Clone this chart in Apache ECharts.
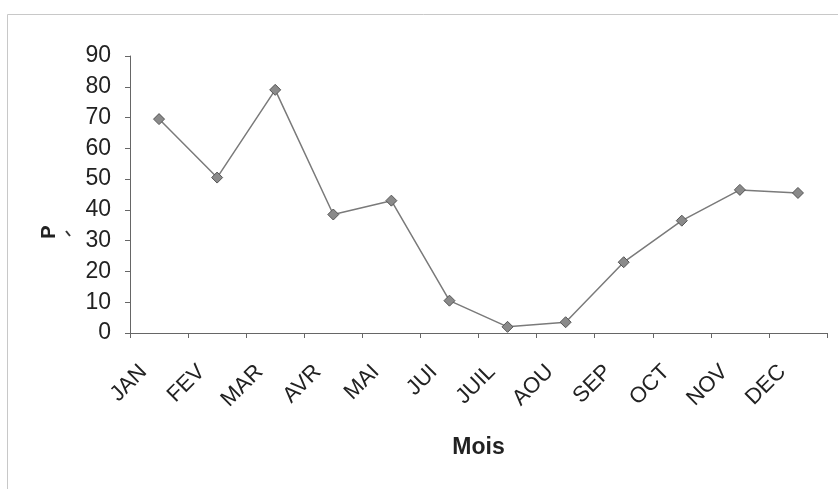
<!DOCTYPE html>
<html>
<head>
<meta charset="utf-8">
<script src="https://cdn.jsdelivr.net/npm/echarts@6/dist/echarts.min.js"></script>
<style>
html,body{margin:0;padding:0;background:#fff;}
#chart{width:838px;height:489px;}
</style>
</head>
<body>
<div id="chart"></div>
<script>
const months = ['JAN','FEV','MAR','AVR','MAI','JUI','JUIL','AOU','SEP','OCT','NOV','DEC'];
const precip = [69.5, 50.5, 79, 38.5, 43, 10.5, 2, 3.5, 23, 36.5, 46.5, 45.5];
const yTicks = [0, 10, 20, 30, 40, 50, 60, 70, 80, 90];
const yTitle = 'P';
const xTitle = 'Mois';

const chart = echarts.init(document.getElementById('chart'), null, {renderer: 'canvas'});
const font = '"Liberation Sans", Arial, sans-serif';
chart.setOption({
  animation: false,
  backgroundColor: '#fff',
  graphic: [
    {type: 'rect', shape: {x: 7.5, y: 14.5, width: 840, height: 490}, style: {fill: 'none', stroke: '#c8c8c8', lineWidth: 1}, silent: true},
    {type: 'text', x: 49, y: 232, rotation: Math.PI / 2,
      style: {text: yTitle, font: 'bold 20px ' + font, fill: '#222', textAlign: 'center', textVerticalAlign: 'middle'}, silent: true},
    {type: 'line', shape: {x1: 66, y1: 231, x2: 70, y2: 236}, style: {stroke: '#333', lineWidth: 2}, silent: true}
  ],
  grid: {left: 130, right: 11, top: 56, bottom: 156, containLabel: false},
  xAxis: {
    type: 'category',
    data: months,
    boundaryGap: true,
    name: xTitle,
    nameLocation: 'middle',
    nameGap: 103,
    nameTextStyle: {fontFamily: font, fontSize: 23, fontWeight: 'bold', color: '#222'},
    axisLine: {show: true, lineStyle: {color: '#666', width: 1}},
    axisTick: {show: true, length: 5, lineStyle: {color: '#666'}, alignWithLabel: false},
    axisLabel: {rotate: 45, margin: 20, padding: [0, 22, 0, 0], fontFamily: font, fontSize: 22, color: '#222', interval: 0},
    splitLine: {show: false}
  },
  yAxis: {
    type: 'value',
    min: 0,
    max: 90,
    interval: 10,
    axisLine: {show: true, lineStyle: {color: '#666', width: 1}},
    axisTick: {show: true, length: 5, lineStyle: {color: '#666'}},
    axisLabel: {margin: 19, fontFamily: font, fontSize: 23, color: '#222',
      formatter: v => yTicks.includes(v) ? String(v) : ''},
    splitLine: {show: false}
  },
  series: [{
    type: 'line',
    data: precip,
    symbol: 'diamond',
    symbolSize: 11,
    lineStyle: {color: '#7a7a7a', width: 1.5},
    itemStyle: {color: '#8a8a8a', borderColor: '#555', borderWidth: 1},
    z: 3
  }]
});
</script>
</body>
</html>
